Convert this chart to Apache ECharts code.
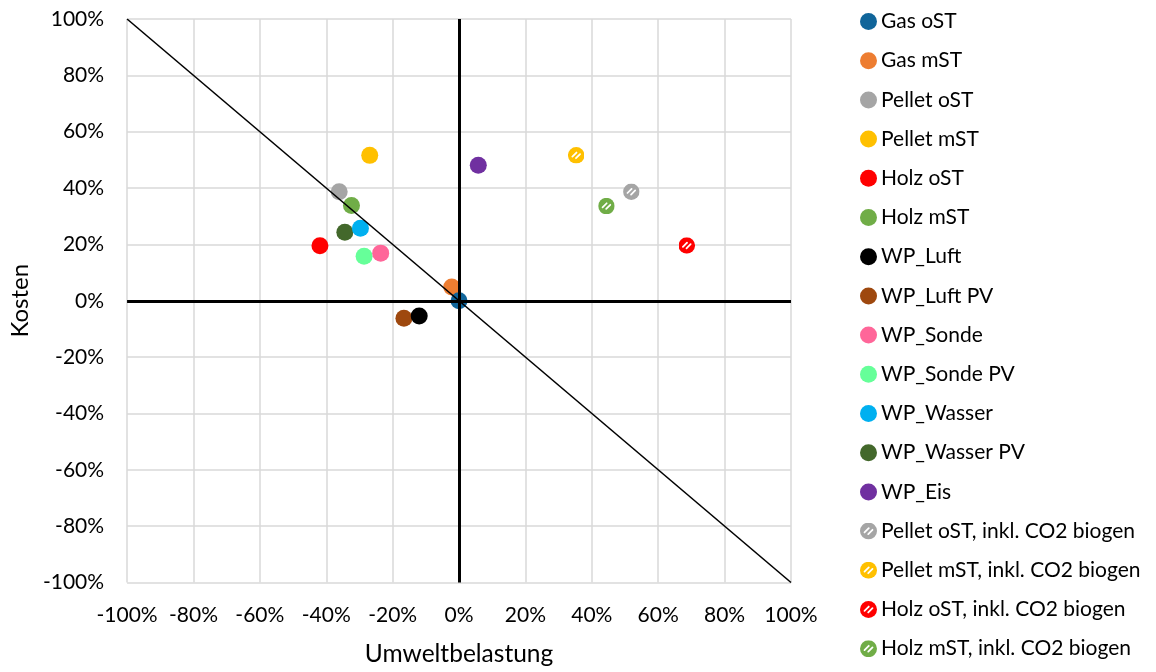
<!DOCTYPE html>
<html>
<head>
<meta charset="utf-8">
<script src="https://cdn.jsdelivr.net/npm/echarts@6/dist/echarts.min.js"></script>
<style>
html,body{margin:0;padding:0;background:#fff;}
#chart{width:1156px;height:672px;}
</style>
</head>
<body>
<div id="chart"></div>
<script>
// ---- data (percent) ----
const seriesNames = ["Gas oST","Gas mST","Pellet oST","Pellet mST","Holz oST","Holz mST","WP_Luft","WP_Luft PV","WP_Sonde","WP_Sonde PV","WP_Wasser","WP_Wasser PV","WP_Eis","Pellet oST, inkl. CO2 biogen","Pellet mST, inkl. CO2 biogen","Holz oST, inkl. CO2 biogen","Holz mST, inkl. CO2 biogen"];
const umwelt = [0, -2.2, -36.1, -26.9, -41.9, -32.4, -12.0, -16.6, -23.6, -28.6, -29.7, -34.4, 5.8, 51.9, 35.3, 68.6, 44.4];
const kosten = [0, 4.9, 38.7, 51.6, 19.5, 33.8, -5.4, -6.2, 16.9, 15.8, 25.7, 24.3, 48.1, 38.7, 51.6, 19.6, 33.6];
const biogen = [false,false,false,false,false,false,false,false,false,false,false,false,false,true,true,true,true];
const diagX = [-100, 100];
const diagY = [100, -100];
const axisTicks = [-100,-80,-60,-40,-20,0,20,40,60,80,100];

// ---- styles ----
const palette = ["#10659a","#ed7d31","#a5a5a5","#ffc000","#ff0000","#70ad47","#000000","#9e480e","#ff6699","#66ff99","#00b0f0","#43682b","#7030a0","#a5a5a5","#ffc000","#ff0000","#70ad47"];
const FONT = "Lato";

function patternSymbol(color){
  const svg = "<svg xmlns='http://www.w3.org/2000/svg' width='32' height='32' viewBox='0 0 32 32'>" +
    "<circle cx='16' cy='16' r='16' fill='" + color + "'/>" +
    "<g stroke='#ffffff' stroke-width='3.4' stroke-linecap='round'>" +
    "<line x1='8.5' y1='18.5' x2='16.5' y2='10.5'/>" +
    "<line x1='15.5' y1='21.5' x2='23.5' y2='13.5'/>" +
    "</g></svg>";
  return "image://data:image/svg+xml;charset=utf-8," + encodeURIComponent(svg);
}

const series = seriesNames.map((n, i) => ({
  name: n,
  type: 'scatter',
  data: [[umwelt[i], kosten[i]]],
  symbol: biogen[i] ? patternSymbol(palette[i]) : 'circle',
  symbolSize: biogen[i] ? 16.5 : 17,
  itemStyle: { color: palette[i], opacity: 1 },
  z: 3 + (seriesNames.length - i) * 0.01,
  emphasis: { disabled: true },
  animation: false
}));

// zero cross lines
series.push({
  name: '_zero',
  type: 'scatter',
  data: [],
  silent: true,
  z: 2,
  markLine: {
    silent: true,
    symbol: 'none',
    label: { show: false },
    lineStyle: { color: '#000', width: 3, type: 'solid' },
    data: [{ xAxis: 0 }, { yAxis: 0 }],
    animation: false
  }
});
// diagonal
series.push({
  name: '_diag',
  type: 'line',
  data: diagX.map((x, i) => [x, diagY[i]]),
  symbol: 'none',
  lineStyle: { color: '#000', width: 1.6 },
  z: 10,
  silent: true,
  animation: false
});

const chart = echarts.init(document.getElementById('chart'), null, { renderer: 'canvas' });
chart.setOption({
  animation: false,
  backgroundColor: '#ffffff',
  textStyle: { fontFamily: FONT },
  grid: { left: 125, right: 365, top: 19, bottom: 84, containLabel: false },
  xAxis: {
    type: 'value', min: axisTicks[0], max: axisTicks[axisTicks.length-1], interval: 20,
    name: 'Umweltbelastung', nameLocation: 'middle', nameGap: 59.5,
    nameTextStyle: { fontSize: 24.5, color: '#000', fontFamily: FONT },
    axisLine: { show: false }, axisTick: { show: false },
    axisLabel: { formatter: '{value}%', fontSize: 21, color: '#000', margin: 22, fontFamily: FONT },
    splitLine: { show: true, lineStyle: { color: '#d9d9d9', width: 1.5 } }
  },
  yAxis: {
    type: 'value', min: axisTicks[0], max: axisTicks[axisTicks.length-1], interval: 20,
    name: 'Kosten', nameLocation: 'middle', nameGap: 94,
    nameTextStyle: { fontSize: 24, color: '#000', fontFamily: FONT },
    axisLine: { show: false }, axisTick: { show: false },
    axisLabel: { formatter: '{value}%', fontSize: 21, color: '#000', margin: 23, fontFamily: FONT },
    splitLine: { show: true, lineStyle: { color: '#d9d9d9', width: 1.5 } }
  },
  legend: {
    orient: 'vertical', left: 860, top: 11, padding: 0,
    data: seriesNames.map((n, i) => ({ name: n, icon: biogen[i] ? patternSymbol(palette[i]) : 'circle' })),
    itemWidth: 17, itemHeight: 17, itemGap: 18.2,
    textStyle: { fontSize: 21, color: '#000', fontFamily: FONT, padding: [0,0,0,-1] },
    selectedMode: false
  },
  series: series
});
</script>
</body>
</html>
